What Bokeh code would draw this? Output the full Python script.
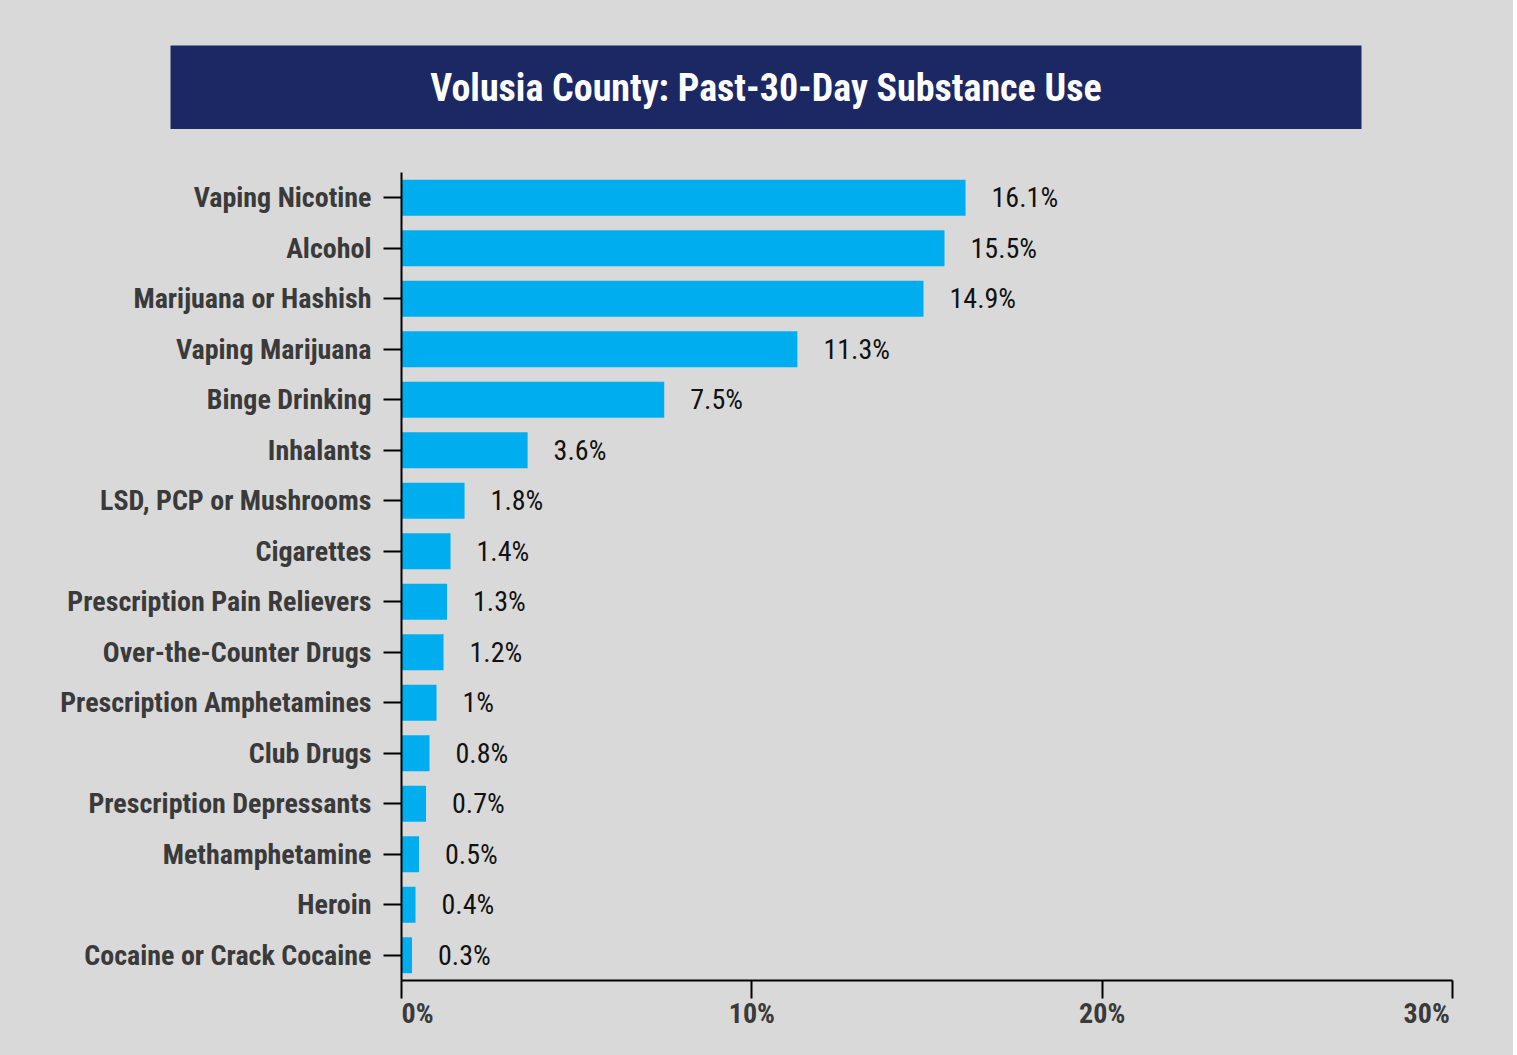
from bokeh.plotting import figure
from bokeh.layouts import column
from bokeh.models import ColumnDataSource, Range1d, FactorRange, FixedTicker
from bokeh.core.properties import value
from bokeh.embed import file_html
from bokeh.resources import INLINE

title_text = "Volusia County: Past-30-Day Substance Use"
categories = ["Vaping Nicotine", "Alcohol", "Marijuana or Hashish", "Vaping Marijuana",
              "Binge Drinking", "Inhalants", "LSD, PCP or Mushrooms", "Cigarettes",
              "Prescription Pain Relievers", "Over-the-Counter Drugs",
              "Prescription Amphetamines", "Club Drugs", "Prescription Depressants",
              "Methamphetamine", "Heroin", "Cocaine or Crack Cocaine"]
values = [16.1, 15.5, 14.9, 11.3, 7.5, 3.6, 1.8, 1.4, 1.3, 1.2, 1.0, 0.8, 0.7, 0.5, 0.4, 0.3]
x_ticks = [0, 10, 20, 30]
x_tick_labels = ["0%", "10%", "20%", "30%"]

BG = "#d9d9d9"
NAVY = "#1c2864"
BAR = "#00aeef"
LABEL = "#3a3a3a"
COND = "'Roboto Condensed', 'Liberation Sans Narrow', 'DejaVu Sans Condensed', 'Noto Sans', Roboto"

# ---- banner figure ----
t = figure(width=1513, height=129, x_range=Range1d(0, 1), y_range=Range1d(0, 1),
           output_backend="svg", toolbar_location=None,
           min_border_top=45, min_border_bottom=0, min_border_left=170, min_border_right=152)
t.axis.visible = False
t.grid.visible = False
t.outline_line_color = None
t.background_fill_color = NAVY
t.border_fill_color = BG
tsrc = ColumnDataSource(dict(x=[0.5], y=[0.5], text=[title_text]))
t.text(x="x", y="y", text="text", source=tsrc, text_align="center", text_baseline="middle",
       text_color="white", text_font=value(COND), text_font_style="bold", text_font_size="38px")

# ---- bar chart ----
y_factors = list(reversed(categories))
p = figure(width=1513, height=926, y_range=FactorRange(*y_factors, range_padding=0),
           x_range=Range1d(0, 30), output_backend="svg", toolbar_location=None,
           min_border_top=43, min_border_bottom=75, min_border_left=401, min_border_right=61)
p.outline_line_color = None
p.background_fill_color = BG
p.border_fill_color = BG
p.grid.visible = False

src = ColumnDataSource(dict(cat=categories, val=values,
                            lab=[f"{v:g}%" for v in values]))
p.hbar(y="cat", right="val", left=0, height=0.71, source=src, color=BAR, line_color=None)
p.text(x="val", y="cat", text="lab", source=src, x_offset=26, text_align="left",
       text_baseline="middle", text_color="#111111", text_font=value(COND),
       text_font_size="28px")

yax = p.yaxis[0]
yax.axis_line_width = 2
yax.axis_line_color = "black"
yax.major_tick_out = 18
yax.major_tick_in = 0
yax.major_tick_line_width = 2
yax.major_tick_line_color = "black"
yax.minor_tick_line_color = None
yax.major_label_standoff = 12
yax.major_label_text_font = COND
yax.major_label_text_font_style = "bold"
yax.major_label_text_font_size = "28px"
yax.major_label_text_color = LABEL

xax = p.xaxis[0]
xax.ticker = FixedTicker(ticks=x_ticks)
nb = "\u00a0"
overrides = {}
for i, (tk, lb) in enumerate(zip(x_ticks, x_tick_labels)):
    if i == 0:
        overrides[tk] = nb * 5 + lb
    elif i == len(x_ticks) - 1:
        overrides[tk] = lb + nb * 8
    else:
        overrides[tk] = lb
xax.major_label_overrides = overrides
xax.axis_line_width = 2
xax.axis_line_color = "black"
xax.major_tick_out = 18
xax.major_tick_in = 0
xax.major_tick_line_width = 2
xax.major_tick_line_color = "black"
xax.minor_tick_line_color = None
xax.major_label_standoff = -2
xax.major_label_text_font = COND
xax.major_label_text_font_style = "bold"
xax.major_label_text_font_size = "28px"
xax.major_label_text_color = LABEL

layout = column(column(t), column(p), spacing=0, styles={"background-color": BG})
open("out.html", "w").write(file_html(layout, INLINE))
